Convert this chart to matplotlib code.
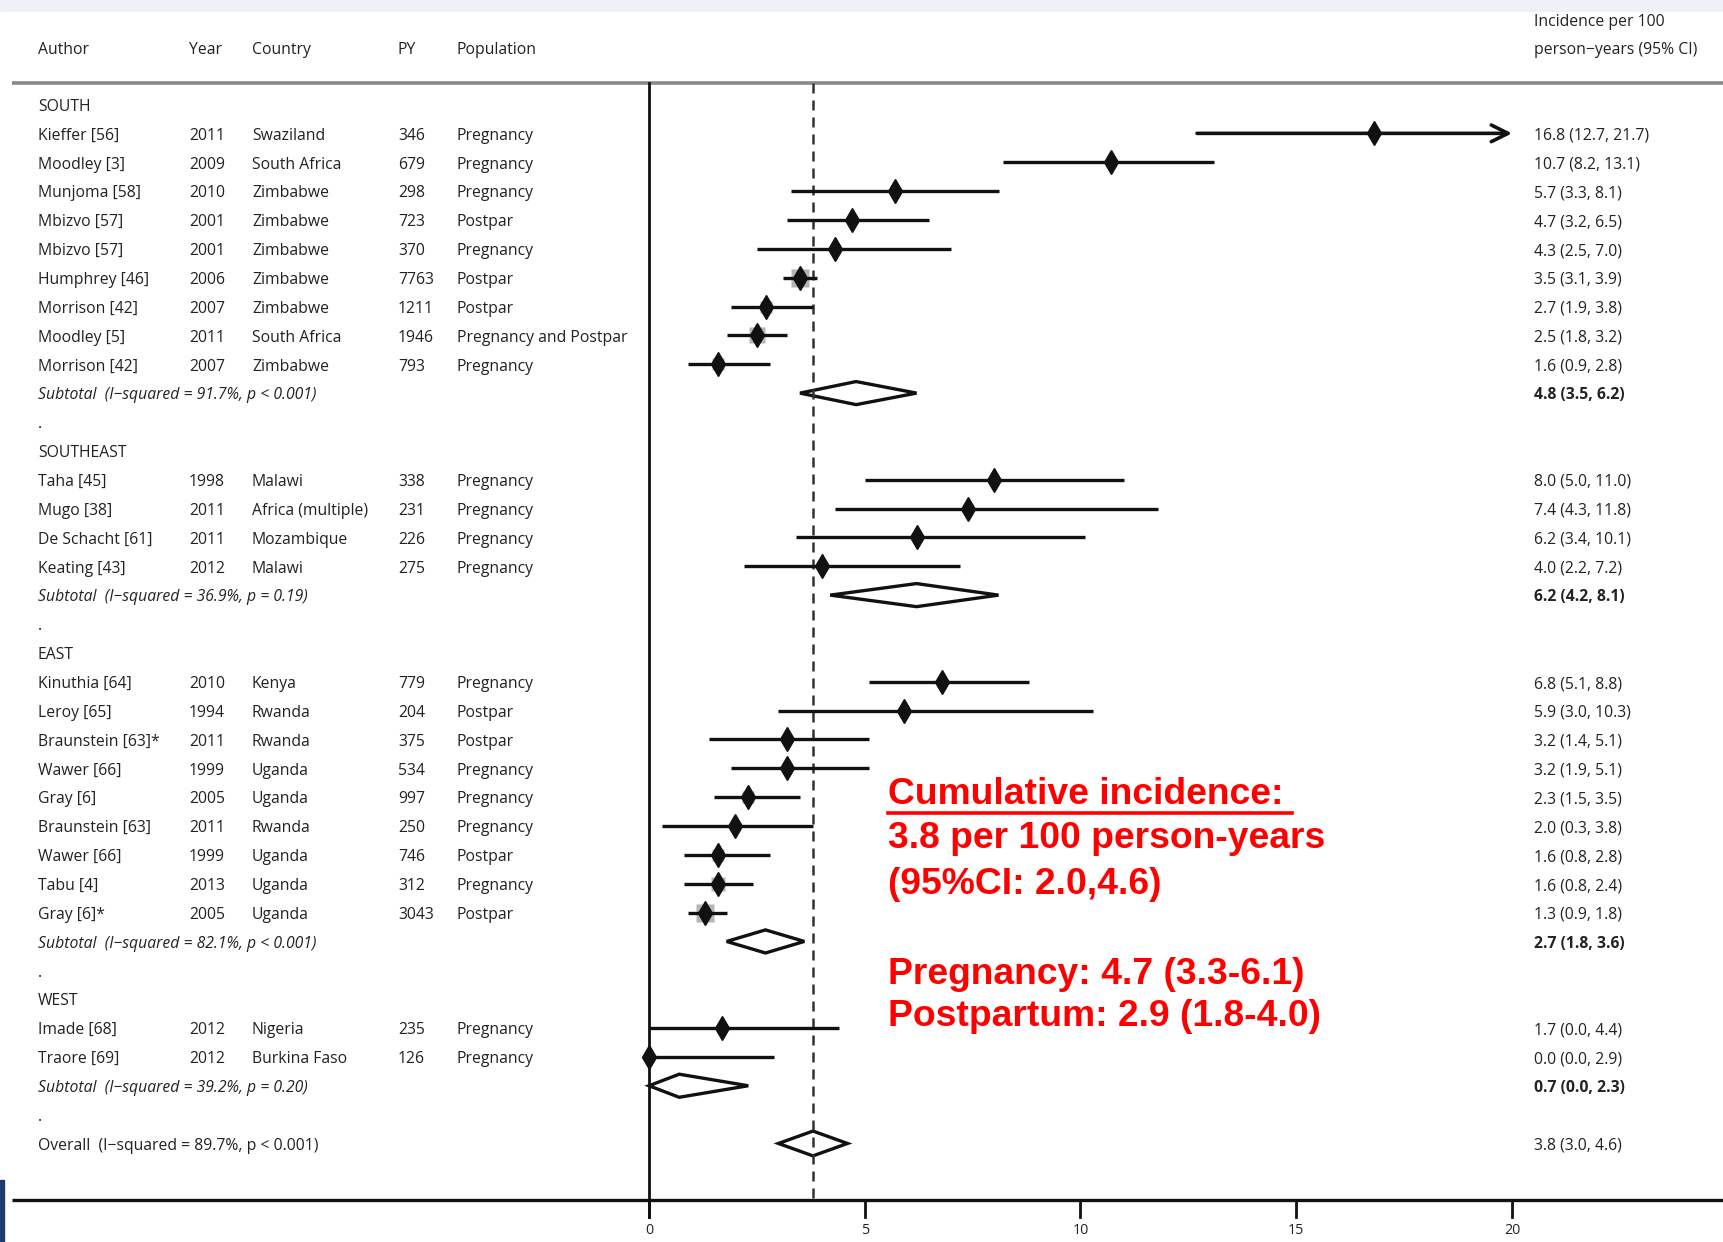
# Forest plot: HIV incidence per 100 person-years during pregnancy / postpartum, by region

import numpy as np
import matplotlib.pyplot as plt
from matplotlib.patches import Polygon, Rectangle
from matplotlib.lines import Line2D

plt.rcParams['font.family'] = ['Open Sans', 'DejaVu Sans']

regions = ['SOUTH', 'SOUTHEAST', 'EAST', 'WEST']
region_sizes = [9, 4, 9, 2]

authors = ['Kieffer [56]', 'Moodley [3]', 'Munjoma [58]', 'Mbizvo [57]', 'Mbizvo [57]',
           'Humphrey [46]', 'Morrison [42]', 'Moodley [5]', 'Morrison [42]',
           'Taha [45]', 'Mugo [38]', 'De Schacht [61]', 'Keating [43]',
           'Kinuthia [64]', 'Leroy [65]', 'Braunstein [63]*', 'Wawer [66]', 'Gray [6]',
           'Braunstein [63]', 'Wawer [66]', 'Tabu [4]', 'Gray [6]*',
           'Imade [68]', 'Traore [69]']
years = [2011, 2009, 2010, 2001, 2001, 2006, 2007, 2011, 2007,
         1998, 2011, 2011, 2012,
         2010, 1994, 2011, 1999, 2005, 2011, 1999, 2013, 2005,
         2012, 2012]
countries = ['Swaziland', 'South Africa', 'Zimbabwe', 'Zimbabwe', 'Zimbabwe',
             'Zimbabwe', 'Zimbabwe', 'South Africa', 'Zimbabwe',
             'Malawi', 'Africa (multiple)', 'Mozambique', 'Malawi',
             'Kenya', 'Rwanda', 'Rwanda', 'Uganda', 'Uganda', 'Rwanda', 'Uganda', 'Uganda', 'Uganda',
             'Nigeria', 'Burkina Faso']
person_years = [346, 679, 298, 723, 370, 7763, 1211, 1946, 793,
                338, 231, 226, 275,
                779, 204, 375, 534, 997, 250, 746, 312, 3043,
                235, 126]
populations = ['Pregnancy', 'Pregnancy', 'Pregnancy', 'Postpar', 'Pregnancy', 'Postpar',
               'Postpar', 'Pregnancy and Postpar', 'Pregnancy',
               'Pregnancy', 'Pregnancy', 'Pregnancy', 'Pregnancy',
               'Pregnancy', 'Postpar', 'Postpar', 'Pregnancy', 'Pregnancy', 'Pregnancy',
               'Postpar', 'Pregnancy', 'Postpar',
               'Pregnancy', 'Pregnancy']
est = [16.8, 10.7, 5.7, 4.7, 4.3, 3.5, 2.7, 2.5, 1.6,
       8.0, 7.4, 6.2, 4.0,
       6.8, 5.9, 3.2, 3.2, 2.3, 2.0, 1.6, 1.6, 1.3,
       1.7, 0.0]
lo = [12.7, 8.2, 3.3, 3.2, 2.5, 3.1, 1.9, 1.8, 0.9,
      5.0, 4.3, 3.4, 2.2,
      5.1, 3.0, 1.4, 1.9, 1.5, 0.3, 0.8, 0.8, 0.9,
      0.0, 0.0]
hi = [21.7, 13.1, 8.1, 6.5, 7.0, 3.9, 3.8, 3.2, 2.8,
      11.0, 11.8, 10.1, 7.2,
      8.8, 10.3, 5.1, 5.1, 3.5, 3.8, 2.8, 2.4, 1.8,
      4.4, 2.9]

sub_est = [4.8, 6.2, 2.7, 0.7]
sub_lo = [3.5, 4.2, 1.8, 0.0]
sub_hi = [6.2, 8.1, 3.6, 2.3]
sub_i2 = [91.7, 36.9, 82.1, 39.2]
sub_p = ['p < 0.001', 'p = 0.19', 'p < 0.001', 'p = 0.20']

overall_est, overall_lo, overall_hi = 3.8, 3.0, 4.6
overall_i2, overall_p = 89.7, 'p < 0.001'

xmax = 20
xticks = [0, 5, 10, 15, 20]

# page geometry (pixels) -> data coordinates
W, H = 1724, 1242
x0_px, unit_px = 649, 43.15
row0_px, row_px = 104.5, 28.86


def px2x(p):
    return (p - x0_px) / unit_px


def px2row(p):
    return (p - row0_px) / row_px


fig = plt.figure(figsize=(W / 100, H / 100), dpi=100)
ax = fig.add_axes([0, 0, 1, 1])
ax.set_xlim(px2x(0), px2x(W))
ax.set_ylim(px2row(H), px2row(0))
ax.axis('off')

fs = 11.3
dy = 0.08  # text sits a touch below the mark centre line
col_author, col_year, col_country, col_py, col_pop, col_ci = [px2x(p) for p in (38, 189, 252, 398, 457, 1534)]


def label(x, y, s, **kw):
    ax.text(x, y + dy, s, fontsize=fs, va='center', color='#222', **kw)


# header
hdr_row = px2row(48)
for x, s in [(col_author, 'Author'), (col_year, 'Year'), (col_country, 'Country'),
             (col_py, 'PY'), (col_pop, 'Population')]:
    label(x, hdr_row, s)
label(col_ci, px2row(20), 'Incidence per 100')
label(col_ci, hdr_row, 'person\u2212years (95% CI)')

top_line = px2row(83)
bottom_line = px2row(1200)
ax.plot([px2x(12), px2x(W)], [top_line, top_line], color='#8a8a8a', lw=2.6, solid_capstyle='butt')
ax.plot([px2x(12), px2x(W)], [bottom_line, bottom_line], color='#111', lw=2.4, solid_capstyle='butt')
ax.plot([0, 0], [top_line, px2row(1217)], color='#111', lw=2.0)
ax.plot([overall_est, overall_est], [top_line, bottom_line], color='#333', lw=1.8,
        linestyle=(0, (4, 2.8)))

for t in xticks:
    ax.plot([t, t], [bottom_line, px2row(1217)], color='#111', lw=2.0)
    ax.text(t, px2row(1231), str(t), fontsize=fs - 1, ha='center', va='center', color='#222')


def ci_text(e, l, h):
    return '%.1f (%.1f, %.1f)' % (e, l, h)


def diamond(e, l, h, y, half=0.4):
    pts = [(l, y), (e, y - half), (h, y), (e, y + half)]
    ax.add_patch(Polygon(pts, closed=True, fill=False, edgecolor='#111', lw=2.4, joinstyle='miter'))


row = 0
i = 0
for g, name in enumerate(regions):
    label(col_author, row, name)
    row += 1
    for _ in range(region_sizes[g]):
        label(col_author, row, authors[i])
        label(col_year, row, str(years[i]))
        label(col_country, row, countries[i])
        label(col_py, row, str(person_years[i]))
        label(col_pop, row, populations[i])
        label(col_ci, row, ci_text(est[i], lo[i], hi[i]))

        # weight box, larger for tighter intervals
        box = min(13, 16 / (hi[i] - lo[i]))
        ax.plot(est[i], row, 's', ms=box, color='#b5b5b5', mec='none', zorder=3)
        if hi[i] > xmax:
            ax.annotate('', xy=(xmax, row), xytext=(lo[i], row),
                        arrowprops=dict(arrowstyle='->', lw=2.6, color='#111',
                                        mutation_scale=30, shrinkA=0, shrinkB=0), zorder=4)
        else:
            ax.plot([lo[i], hi[i]], [row, row], color='#111', lw=2.4, solid_capstyle='butt', zorder=4)
        ax.plot(est[i], row, 'd', ms=12, color='#111', zorder=5)
        row += 1
        i += 1

    label(col_author, row, 'Subtotal  (I\u2212squared = %.1f%%, %s)' % (sub_i2[g], sub_p[g]),
          style='italic')
    label(col_ci, row, ci_text(sub_est[g], sub_lo[g], sub_hi[g]), weight='bold')
    diamond(sub_est[g], sub_lo[g], sub_hi[g], row)
    row += 1
    label(col_author, row, '.')
    row += 1

label(col_author, row, 'Overall  (I\u2212squared = %.1f%%, %s)' % (overall_i2, overall_p))
label(col_ci, row, ci_text(overall_est, overall_lo, overall_hi))
diamond(overall_est, overall_lo, overall_hi, row, half=0.43)

# slide decorations: top band and left edge bar
fig.patches.append(Rectangle((0, 1 - 11 / H), 1, 11 / H, transform=fig.transFigure,
                             color='#eef1f7', zorder=-1))
fig.patches.append(Rectangle((0, 0), 4 / W, 62 / H, transform=fig.transFigure,
                             color='#1f3a6e', zorder=5))

# red annotation
red = '#ff0000'
note = [('Cumulative incidence: ', 794), ('3.8 per 100 person-years', 839),
        ('(95%CI: 2.0,4.6)', 884), ('Pregnancy: 4.7 (3.3-6.1)', 974),
        ('Postpartum: 2.9 (1.8-4.0)', 1017)]
for s, yp in note:
    fig.text(888 / W, 1 - yp / H, s, fontsize=26.8, weight='bold', color=red,
             family=['Liberation Sans', 'DejaVu Sans'], va='center', ha='left')
fig.lines.append(Line2D([888 / W, 1292 / W], [1 - 813 / H, 1 - 813 / H],
                        transform=fig.transFigure, color=red, lw=2.6))

fig.savefig('out.png', dpi=100, facecolor='white')
